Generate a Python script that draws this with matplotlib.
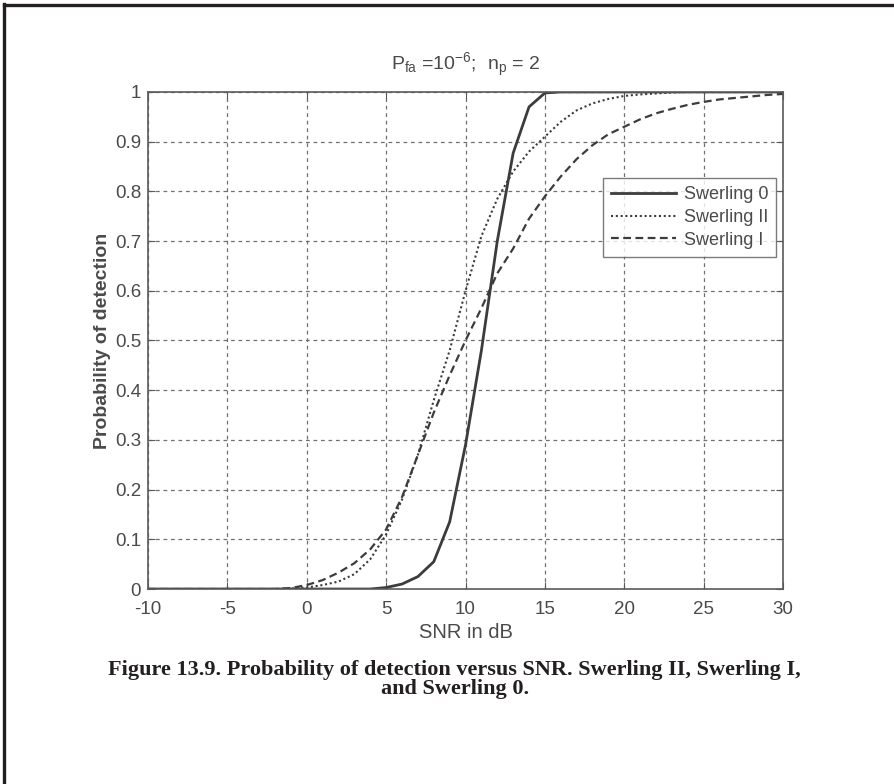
import numpy as np
import matplotlib.pyplot as plt
from matplotlib.lines import Line2D

plt.rcParams['font.family'] = ['Liberation Sans', 'DejaVu Sans']
plt.rcParams['mathtext.fontset'] = 'custom'
plt.rcParams['mathtext.rm'] = 'Liberation Sans'
plt.rcParams['mathtext.it'] = 'Liberation Sans'
plt.rcParams['axes.unicode_minus'] = False

# data (SNR in dB, probability of detection)
snr_db = np.arange(-10, 31)
swerling0 = [0] * 15 + [0.003, 0.01, 0.025, 0.055, 0.135, 0.29, 0.48, 0.70, 0.877,
                        0.97, 0.998] + [1] * 15
swerling2 = [0] * 9 + [0.001, 0.003, 0.008, 0.015, 0.03, 0.06, 0.11, 0.18, 0.27,
                       0.38, 0.48, 0.60, 0.71, 0.785, 0.84, 0.88, 0.91, 0.94, 0.963,
                       0.977, 0.986, 0.992, 0.995, 0.997, 0.999] + [1] * 7
swerling1 = [0] * 9 + [0.002, 0.008, 0.018, 0.033, 0.052, 0.08, 0.12, 0.185, 0.27,
                       0.355, 0.43, 0.50, 0.565, 0.635, 0.685, 0.745, 0.79, 0.83,
                       0.865, 0.893, 0.915, 0.93, 0.945, 0.957, 0.966, 0.974, 0.98,
                       0.985, 0.988, 0.991, 0.994, 0.996]
xticks = np.arange(-10, 31, 5)
yticks = np.round(np.arange(0, 1.01, 0.1), 1)
ytick_labels = ['0'] + ['%.1f' % v for v in yticks[1:-1]] + ['1']

line_color = '#3c3c3c'
axis_color = '#5a5a5a'
text_color = '#4a4a4a'

fig = plt.figure(figsize=(8.95, 7.84), dpi=100)
ax = fig.add_axes([0.1654, 0.2487, 0.7095, 0.634])

ax.plot(snr_db, swerling0, color=line_color, lw=2.0, ls='-', label='Swerling 0')
ax.plot(snr_db, swerling2, color=line_color, lw=1.5, ls=(0, (1, 1.3)), label='Swerling II')
ax.plot(snr_db, swerling1, color=line_color, lw=1.6, ls=(0, (3.5, 2)), label='Swerling I')

ax.set_xlim(-10, 30)
ax.set_ylim(0, 1)
ax.set_xticks(xticks)
ax.set_yticks(yticks)
ax.set_yticklabels(ytick_labels)
ax.grid(True, color='#707070', ls=(0, (3, 3)), lw=0.9)
ax.tick_params(direction='in', top=True, right=True, length=5, color=axis_color,
               labelcolor=text_color, labelsize=13.5, pad=5)
ax.tick_params(axis='x', pad=8.5)
for s in ax.spines.values():
    s.set_color(axis_color)
    s.set_linewidth(1.2)

ax.set_xlabel('SNR in dB', fontsize=14.5, color=text_color, labelpad=4)
ax.set_ylabel('Probability of detection', fontsize=14, fontweight='bold',
              color=text_color, labelpad=3)
ax.set_title(r'$\mathrm{P_{fa}}$ =10$^{\mathrm{-6}}$;  n$_{\mathrm{p}}$ = 2',
             fontsize=14, color=text_color, pad=16)

leg = ax.legend(loc='upper left', bbox_to_anchor=(0.717, 0.827), fontsize=13,
                frameon=True, fancybox=False, edgecolor=axis_color, handlelength=3.6,
                borderpad=0.45, labelspacing=0.32, handletextpad=0.4, borderaxespad=0)
leg.get_frame().set_linewidth(1.0)
for t in leg.get_texts():
    t.set_color(text_color)

fig.text(0.508, 0.1455, 'Figure 13.9. Probability of detection versus SNR. Swerling II, Swerling I,',
         ha='center', va='center', fontsize=16, fontweight='bold',
         family='Liberation Serif', color='#231f20')
fig.text(0.508, 0.1215, 'and Swerling 0.', ha='center', va='center', fontsize=16,
         fontweight='bold', family='Liberation Serif', color='#231f20')

# page border (top and left edges)
fig.add_artist(Line2D([0.004, 1.0], [0.9930, 0.9930], color='#231f20', lw=2.4,
                      transform=fig.transFigure))
fig.add_artist(Line2D([0.0045, 0.0045], [0.0, 0.9945], color='#231f20', lw=2.4,
                      transform=fig.transFigure))

fig.savefig('out.png', dpi=100, facecolor='white')
